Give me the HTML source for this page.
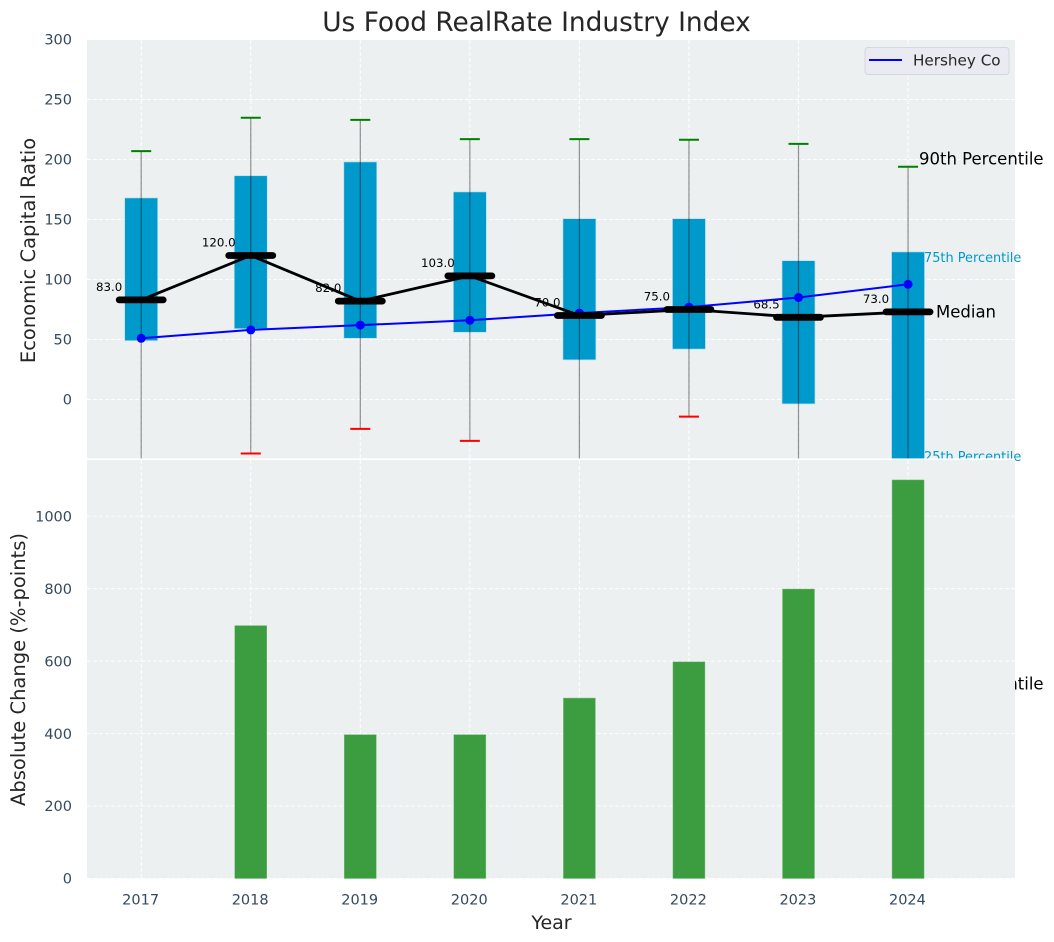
<!DOCTYPE html>
<html lang="en">
<head>
<meta charset="utf-8">
<title>Us Food RealRate Industry Index</title>
<style>
  html, body { margin: 0; padding: 0; background: #ffffff; }
  svg { display: block; font-family: "DejaVu Sans", "Liberation Sans", sans-serif; }
</style>
</head>
<body>
<svg id="chart" xmlns="http://www.w3.org/2000/svg" width="1054" height="942" viewBox="0 0 1054 942">
  <defs>
    <clipPath id="top-clip"><rect x="87" y="40" width="928" height="418.5"></rect></clipPath>
  </defs>
</svg>
<script>
const years = [2017, 2018, 2019, 2020, 2021, 2022, 2023, 2024];
const p90 = [207, 234.8, 233, 217, 217, 216.5, 213, 194];
const p75 = [168, 186.5, 198, 173, 150.7, 150.7, 115.7, 123];
const medians = [83, 120, 82, 103, 70, 75, 68.5, 73];
const p25 = [49, 59, 51, 56, 33, 42, -3.7, -60];
const p10 = [-80, -45, -24.5, -34.5, -80, -14.3, -80, -237];
const hershey = [51, 58, 62, 66, 72, 77, 85, 96];
const changes = [0, 698, 397, 397, 498, 598, 799, 1100];
const topTicks = [0, 50, 100, 150, 200, 250, 300];
const bottomTicks = [0, 200, 400, 600, 800, 1000];

const svg = document.getElementById('chart');
const NS = 'http://www.w3.org/2000/svg';
const axisLeft = 87, axisRight = 1015;
const topAxisTop = 40, topAxisBottom = 458.4;
const bottomAxisTop = 460, bottomAxisBottom = 878.5;

function xScale(year) { return 141.2 + (year - 2017) * 109.55; }
function yTop(v) { return 399.5 - 1.2 * v; }
function yBottom(v) { return bottomAxisBottom - (bottomAxisBottom - bottomAxisTop) * v / 1155; }

function make(tag, attrs, parent, text) {
  const el = document.createElementNS(NS, tag);
  for (const k in attrs) el.setAttribute(k, attrs[k]);
  if (text !== undefined) el.textContent = text;
  (parent || svg).appendChild(el);
  return el;
}
function gridAttrs(x1, y1, x2, y2) {
  return { x1: x1, y1: y1, x2: x2, y2: y2, stroke: '#ffffff', 'stroke-width': 1, 'stroke-dasharray': '4 2', 'stroke-opacity': 0.9 };
}
const tickStyle = { fill: '#34495e', 'font-size': '14.5px' };

/* ---------- title ---------- */
let node = make('text', { x: 536.5, y: 31, 'text-anchor': 'middle', 'font-size': '26.4px', fill: '#262626' }, svg, 'Us Food RealRate Industry Index');



/* ---------- top panel ---------- */
const topPanel = make('g', {});



node = make('rect', { x: axisLeft, y: topAxisTop, width: axisRight - axisLeft, height: topAxisBottom - topAxisTop, fill: '#ecf0f1' }, topPanel);



topTicks.forEach(function (t) {
  const line = make('line', gridAttrs(axisLeft, yTop(t), axisRight, yTop(t)), topPanel);
  
  
  const label = make('text', Object.assign({ x: 72, y: yTop(t) + 5.2, 'text-anchor': 'end' }, tickStyle), svg, String(t));
  
  
});
years.forEach(function (y) {
  const line = make('line', gridAttrs(xScale(y), topAxisTop, xScale(y), topAxisBottom), topPanel);
  
  
});

const topMarks = make('g', { 'clip-path': 'url(#top-clip)' }, topPanel);



const boxWidth = 33;
years.forEach(function (y, i) {
  const x = xScale(y);
  const box = make('rect', { x: x - boxWidth / 2, y: yTop(p75[i]), width: boxWidth, height: yTop(p25[i]) - yTop(p75[i]), fill: '#0099cc', stroke: '#b9dfe9', 'stroke-width': 0.7 }, topMarks);
  
  
});
years.forEach(function (y, i) {
  const x = xScale(y);
  const whisker = make('line', { x1: x, y1: yTop(p90[i]), x2: x, y2: yTop(p10[i]), stroke: '#000000', 'stroke-opacity': 0.42, 'stroke-width': 1.2 }, topMarks);
  
  
  const capHigh = make('line', { x1: x - 10, y1: yTop(p90[i]), x2: x + 10, y2: yTop(p90[i]), stroke: '#008000', 'stroke-width': 2 }, topMarks);
  
  
  const capLow = make('line', { x1: x - 10, y1: yTop(p10[i]), x2: x + 10, y2: yTop(p10[i]), stroke: '#ff0000', 'stroke-width': 2 }, topMarks);
  
  
});

years.forEach(function (y, i) {
  const label = make('text', { x: xScale(y) - 32, y: yTop(medians[i]) - 9, 'text-anchor': 'middle', 'font-size': '11.8px', fill: '#000000' }, topMarks, medians[i].toFixed(1));
  
  
});

const hersheyLine = make('polyline', { points: years.map(function (y, i) { return xScale(y) + ',' + yTop(hershey[i]); }).join(' '), fill: 'none', stroke: '#0000ff', 'stroke-width': 2 }, topMarks);


years.forEach(function (y, i) {
  const dot = make('circle', { cx: xScale(y), cy: yTop(hershey[i]), r: 4.5, fill: '#0000ff' }, topMarks);
  
  
});

const medianLine = make('polyline', { points: years.map(function (y, i) { return xScale(y) + ',' + yTop(medians[i]); }).join(' '), fill: 'none', stroke: '#000000', 'stroke-width': 2.8 }, topMarks);


years.forEach(function (y, i) {
  const bar = make('line', { x1: xScale(y) - 22, y1: yTop(medians[i]), x2: xScale(y) + 22, y2: yTop(medians[i]), stroke: '#000000', 'stroke-width': 6.8, 'stroke-linecap': 'round' }, topMarks);
  
  
});

/* percentile annotations for the last year (unclipped; lower panel paints over them) */
const lastIdx = years.length - 1;
node = make('text', { x: 919, y: yTop(p90[lastIdx]) - 2, 'font-size': '16.5px', fill: '#000000' }, topPanel, '90th Percentile');


node = make('text', { x: 924, y: yTop(p75[lastIdx]) + 10, 'font-size': '12.9px', fill: '#0099cc' }, topPanel, '75th Percentile');


node = make('text', { x: 936, y: yTop(medians[lastIdx]) + 5.5, 'font-size': '16.5px', fill: '#000000' }, topPanel, 'Median');


node = make('text', { x: 924, y: yTop(p25[lastIdx]) - 10.5, 'font-size': '12.9px', fill: '#0099cc' }, topPanel, '25th Percentile');


node = make('text', { x: 919, y: yTop(p10[lastIdx]) + 5.5, 'font-size': '16.5px', fill: '#000000' }, topPanel, '10th Percentile');



/* legend */
const legend = make('g', {}, topPanel);


node = make('rect', { x: 865, y: 47.5, width: 144, height: 27, rx: 3, fill: '#eaeaf2', stroke: '#d6d6de', 'stroke-width': 1 }, legend);


node = make('line', { x1: 869, y1: 60, x2: 902, y2: 60, stroke: '#0000ff', 'stroke-width': 2 }, legend);


node = make('text', { x: 913, y: 65.5, 'font-size': '15.2px', fill: '#262626' }, legend, 'Hershey Co');



node = make('text', { x: 0, y: 0, transform: 'translate(35,250.5) rotate(-90)', 'text-anchor': 'middle', 'font-size': '19.5px', fill: '#262626' }, svg, 'Economic Capital Ratio');



/* ---------- bottom panel ---------- */
const bottomPanel = make('g', {});



node = make('rect', { x: axisLeft, y: topAxisBottom, width: axisRight - axisLeft, height: bottomAxisTop - topAxisBottom, fill: '#ffffff' }, bottomPanel);



node = make('rect', { x: axisLeft, y: bottomAxisTop, width: axisRight - axisLeft, height: bottomAxisBottom - bottomAxisTop, fill: '#ecf0f1' }, bottomPanel);



bottomTicks.forEach(function (t) {
  const line = make('line', gridAttrs(axisLeft, yBottom(t), axisRight, yBottom(t)), bottomPanel);
  
  
  const label = make('text', Object.assign({ x: 72, y: yBottom(t) + 5.2, 'text-anchor': 'end' }, tickStyle), svg, String(t));
  
  
});
years.forEach(function (y) {
  const line = make('line', gridAttrs(xScale(y), bottomAxisTop, xScale(y), bottomAxisBottom), bottomPanel);
  
  
  const label = make('text', Object.assign({ x: xScale(y) - 0.6, y: 904.5, 'text-anchor': 'middle' }, tickStyle), svg, String(y));
  
  
});

const barWidth = 32;
years.forEach(function (y, i) {
  if (changes[i] <= 0) return;
  const bar = make('rect', { x: xScale(y) - barWidth / 2, y: yBottom(changes[i]), width: barWidth, height: yBottom(0) - yBottom(changes[i]), fill: '#3b9c40', stroke: '#7dbd80', 'stroke-width': 0.5 }, bottomPanel);
  
  
});

node = make('text', { x: 0, y: 0, transform: 'translate(25,669.5) rotate(-90)', 'text-anchor': 'middle', 'font-size': '19.5px', fill: '#262626' }, svg, 'Absolute Change (%-points)');


node = make('text', { x: 551.5, y: 929, 'text-anchor': 'middle', 'font-size': '19px', fill: '#262626' }, svg, 'Year');


</script>
</body>
</html>
